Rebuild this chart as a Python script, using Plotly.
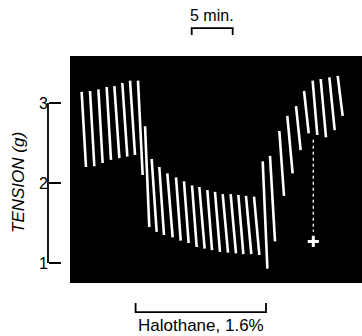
import plotly.graph_objects as go

# Twitch strokes: time (min) and tension (g)
# at the top (peak) and bottom (baseline) end of each stroke
t_top = [1.42, 2.44, 3.46, 4.47, 5.41, 6.38, 7.32, 8.29, 9.15, 9.96, 10.89, 11.87,
         12.93, 13.90, 14.88, 15.77, 16.75, 17.68, 18.62, 19.59, 20.53, 21.46, 22.44,
         23.50, 24.39, 25.53, 26.50, 27.56, 28.54, 29.59, 30.57, 31.63, 32.64]
T_top = [3.14, 3.15, 3.17, 3.20, 3.21, 3.25, 3.28, 3.28, 2.71, 2.30, 2.20, 2.12,
         2.07, 2.02, 1.97, 1.95, 1.91, 1.89, 1.86, 1.86, 1.85, 1.84, 1.83,
         2.27, 2.34, 2.65, 2.84, 2.96, 3.15, 3.28, 3.30, 3.32, 3.34]
t_bot = [1.95, 2.97, 3.98, 5.00, 6.02, 6.99, 7.93, 8.86, 9.67, 10.57, 11.46, 12.52,
         13.50, 14.47, 15.45, 16.42, 17.32, 18.29, 19.27, 20.24, 21.14, 22.11, 23.09,
         24.07, 25.00, 26.10, 27.15, 28.13, 29.11, 30.16, 31.22, 32.28, 33.25]
T_bot = [2.20, 2.21, 2.25, 2.29, 2.31, 2.33, 2.35, 2.10, 1.45, 1.39, 1.35, 1.32,
         1.28, 1.25, 1.20, 1.18, 1.16, 1.14, 1.13, 1.12, 1.11, 1.11, 1.10,
         0.93, 1.27, 1.84, 2.12, 2.41, 2.62, 2.60, 2.57, 2.66, 2.84]

# dashed calibration line near the end
cal_t = [29.67, 29.67]
cal_T = [2.54, 1.39]
mark_t = [29.67]
mark_T = [1.27]

halothane_start, halothane_end = 8.0, 23.9
scale_start, scale_len = 14.84, 5.0
y_ticks = [1, 2, 3]
x_range = [0, 35.61]
y_range = [0.75, 3.5875]

xs, ys = [], []
for a, b, c, d in zip(t_top, T_top, t_bot, T_bot):
    xs += [a, c, None]
    ys += [b, d, None]

fig = go.Figure()
fig.add_trace(go.Scatter(x=xs, y=ys, mode="lines",
                         line=dict(color="white", width=2.6),
                         hoverinfo="skip", showlegend=False))
fig.add_trace(go.Scatter(x=cal_t, y=cal_T, mode="lines",
                         line=dict(color="white", width=1.3, dash="dot"),
                         showlegend=False))
fig.add_trace(go.Scatter(x=mark_t, y=mark_T, mode="markers",
                         marker=dict(color="white", size=8, symbol="cross-thin",
                                     line=dict(color="white", width=3)),
                         showlegend=False))

shapes = [
    # black recording background
    dict(type="rect", xref="x domain", yref="y domain", x0=0, x1=1, y0=0, y1=1,
         fillcolor="black", line=dict(width=0), layer="below"),
    # y-axis line from 1 to 3 g
    dict(type="line", xref="paper", yref="y", x0=48 / 362, x1=48 / 362,
         y0=y_ticks[0], y1=y_ticks[-1], line=dict(color="black", width=1.8)),
    # 5 min scale bar
    dict(type="path", xref="x", yref="paper",
         path=f"M {scale_start} 1.092 L {scale_start} 1.123 L {scale_start + scale_len} 1.123 L {scale_start + scale_len} 1.092",
         line=dict(color="black", width=1.8)),
    # halothane bar
    dict(type="path", xref="x", yref="paper",
         path=f"M {halothane_start} -0.088 L {halothane_start} -0.128 L {halothane_end} -0.128 L {halothane_end} -0.088",
         line=dict(color="black", width=1.8)),
]

annotations = [
    dict(text="5 min.", xref="x", yref="paper", x=scale_start + scale_len / 2, y=1.132,
         xanchor="center", yanchor="bottom", showarrow=False,
         font=dict(size=16, color="black", family="Liberation Sans, Arial")),
    dict(text="Halothane, 1.6%", xref="x", yref="paper",
         x=(halothane_start + halothane_end) / 2, y=-0.138,
         xanchor="center", yanchor="top", showarrow=False,
         font=dict(size=17, color="black", family="Liberation Sans, Arial")),
    dict(text="<i>TENSION (g)</i>", xref="paper", yref="y", x=18 / 362, y=2,
         xanchor="center", yanchor="middle", textangle=-90, showarrow=False,
         font=dict(size=17, color="black", family="Liberation Sans, Arial")),
]

fig.update_layout(
    width=362, height=336,
    margin=dict(l=0, r=0, t=56, b=53),
    paper_bgcolor="white", plot_bgcolor="white",
    shapes=shapes, annotations=annotations,
    xaxis=dict(domain=[70 / 362, 1], range=x_range, visible=False, fixedrange=True),
    yaxis=dict(anchor="free", position=48 / 362, range=y_range,
               tickvals=y_ticks, ticktext=[str(v) for v in y_ticks],
               ticks="inside", ticklen=12, tickwidth=1.8, tickcolor="black",
               showline=False, showgrid=False, zeroline=False, fixedrange=True,
               tickfont=dict(size=16, color="black", family="Liberation Sans, Arial")),
)

fig.write_html("out.html", config={"displayModeBar": False},
               post_script="document.body.style.margin='0';document.body.style.overflow='hidden';")
